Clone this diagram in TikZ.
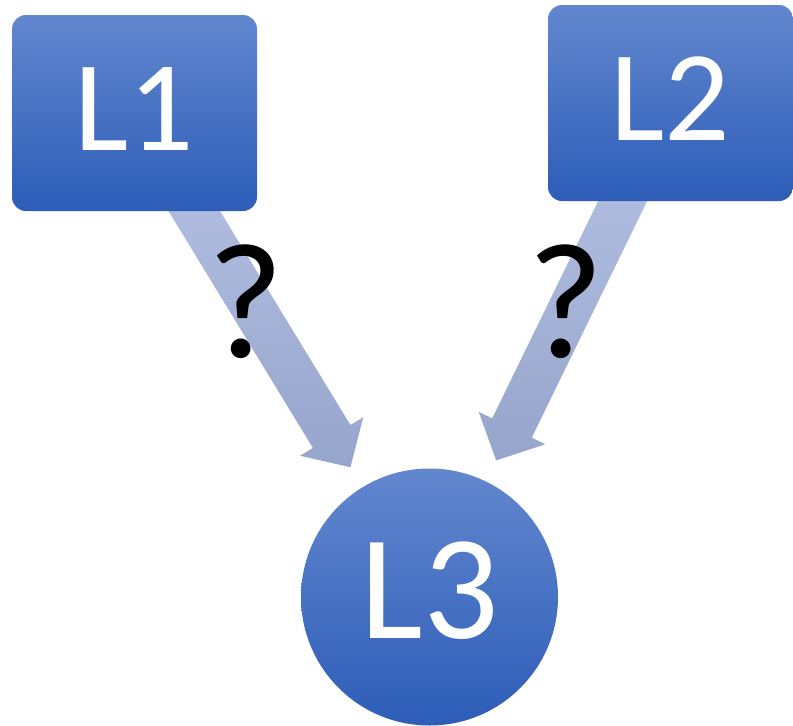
\documentclass[tikz,border=0pt]{standalone}
\usepackage{fontspec}
\setmainfont{Carlito}
\usetikzlibrary{calc,backgrounds}
\definecolor{boxtop}{HTML}{6287CE}
\definecolor{boxbot}{HTML}{2D5DB8}
\definecolor{arrtop}{HTML}{B9C5E7}
\definecolor{arrbot}{HTML}{96A5CC}
\begin{document}
\begin{tikzpicture}[x=1pt,y=-1pt,
  levelbox/.style={rectangle, rounded corners=14pt, top color=boxtop, bottom color=boxbot,
    draw=none, minimum width=245pt, minimum height=196pt, inner sep=0pt,
    text=white, font=\fontsize{129}{130}\selectfont, text depth=9pt},
  levelcircle/.style={circle, top color=boxtop, bottom color=boxbot, draw=none,
    minimum size=257pt, inner sep=0pt, text=white,
    font=\fontsize{149}{150}\selectfont, text depth=14pt},
  fatarrow/.style={top color=arrtop, bottom color=arrbot, draw=none},
  qmark/.style={text=black, font=\fontsize{165}{166}\selectfont, inner sep=0pt}
]
\useasboundingbox (0,0) rectangle (793,726);

\node[levelbox] (L1) at (134.5,113) {L1};
\node[levelbox] (L2) at (670.5,103) {L2};
\node[levelcircle] (L3) at (429.5,597) {L3};

% wide block arrows from the upper levels towards L3
\begin{pgfonlayer}{background}
\foreach \src/\k in {L1/1, L2/2} {
  \coordinate (t\k) at ($(L3.center)!152pt!(\src.center)$);
  \coordinate (b\k) at ($(t\k)!36pt!(\src.center)$);
  \shade[fatarrow]
    ($(\src.center)!22pt!90:(t\k)$) -- ($(b\k)!22pt!90:(t\k)$) --
    ($(b\k)!37pt!90:(t\k)$) -- (t\k) -- ($(b\k)!37pt!-90:(t\k)$) --
    ($(b\k)!22pt!-90:(t\k)$) -- ($(\src.center)!22pt!-90:(t\k)$) -- cycle;
}
\end{pgfonlayer}

\node[qmark] (q1) at (246,302) {?};
\node[qmark] (q2) at (566,302) {?};
\end{tikzpicture}
\end{document}
